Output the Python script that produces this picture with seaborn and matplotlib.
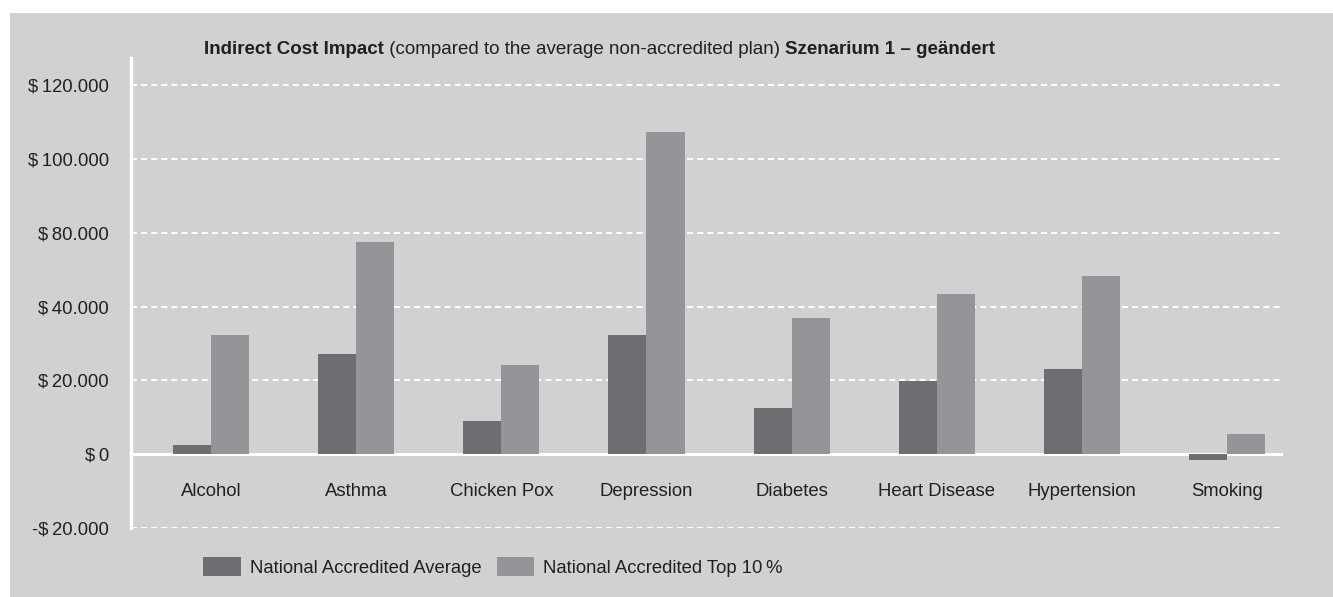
import matplotlib
matplotlib.use("Agg")
import matplotlib.pyplot as plt
import matplotlib.transforms as mtrans
import seaborn as sns
import pandas as pd
from matplotlib.patches import Rectangle
from matplotlib.ticker import FixedLocator

categories = ["Alcohol", "Asthma", "Chicken Pox", "Depression", "Diabetes",
              "Heart Disease", "Hypertension", "Smoking"]
series_names = ["National Accredited Average", "National Accredited Top 10\u2009%"]
national_avg = [2600, 27200, 9100, 32400, 12600, 19900, 23200, -1500]
national_top10 = [32400, 57600, 24300, 87400, 37000, 43500, 48400, 5600]
ytick_values = [-20000, 0, 20000, 40000, 60000, 80000, 100000]
ytick_labels = ["-$\u200920.000", "$\u20090", "$\u200920.000", "$\u200940.000",
                "$\u200980.000", "$\u2009100.000", "$\u2009120.000"]
title_parts = [("Indirect Cost Impact", "bold"),
               (" (compared to the average non-accredited plan) ", "normal"),
               ("Szenarium 1 \u2013 geändert", "bold")]

BG = "#d0d1d3"
DARK = "#6d6e72"
LIGHT = "#949599"
TXT = "#231f20"
FS = 13.3

sns.set_style("white")
plt.rcParams["font.family"] = ["Liberation Sans", "DejaVu Sans"]

df = pd.DataFrame({
    "category": categories * 2,
    "series": [series_names[0]] * len(categories) + [series_names[1]] * len(categories),
    "value": national_avg + national_top10,
})

fig = plt.figure(figsize=(13.33, 5.97), dpi=100, facecolor="white")
fig.patches.append(Rectangle((10 / 1333, 0), 1, (597 - 13) / 597, transform=fig.transFigure,
                             facecolor=BG, edgecolor="none", zorder=-10))
ax = fig.add_axes([131 / 1333, 1 - 528 / 597, (1283 - 131) / 1333, (528 - 58) / 597])
ax.set_facecolor(BG)

sns.barplot(data=df, x="category", y="value", hue="series", order=categories,
            hue_order=series_names, palette=[DARK, LIGHT], width=0.524,
            saturation=1, ax=ax, zorder=3, linewidth=0, legend=True)

ax.set_xlim(-0.552, 7.386)
ax.set_ylim(-20000, 107450)
ax.yaxis.set_major_locator(FixedLocator(ytick_values))
ax.set_yticklabels(ytick_labels)
ax.yaxis.grid(True, color="white", linestyle=(0, (3.1, 2.1)), linewidth=1.4, zorder=0)
ax.set_axisbelow(True)
ax.axhline(0, color="white", linewidth=2.2, zorder=1)
for s in ["top", "right", "bottom"]:
    ax.spines[s].set_visible(False)
ax.spines["left"].set_color("white")
ax.spines["left"].set_linewidth(2.5)
ax.tick_params(axis="both", length=0, labelsize=FS, colors=TXT)
ax.tick_params(axis="y", pad=15.8)
ax.set_xlabel("")
ax.set_ylabel("")
ax.set_xticks(range(len(categories)))
ax.set_xticklabels([])
cat_tr = mtrans.blended_transform_factory(ax.transData, fig.transFigure)
for i, c in enumerate(categories):
    ax.text(i, 1 - 496 / 597, c, ha="center", va="baseline", fontsize=FS, color=TXT,
            transform=cat_tr)

handles, labels = ax.get_legend_handles_labels()
ax.get_legend().remove()
fig.legend(handles, labels, loc="center left", bbox_to_anchor=(203 / 1333, 1 - 567 / 597),
           ncol=2, frameon=False, fontsize=FS, handlelength=2.05, handleheight=1.24,
           handletextpad=0.49, columnspacing=0.81, labelcolor=TXT, borderaxespad=0,
           borderpad=0)

fig.canvas.draw()
renderer = fig.canvas.get_renderer()
x = 204
for txt, w in title_parts:
    t = fig.text(x / 1333, 1 - 54 / 597, txt, fontsize=13.5, fontweight=w, color=TXT,
                 ha="left", va="baseline")
    bb = t.get_window_extent(renderer=renderer)
    x = bb.x1

fig.savefig("out.png", dpi=100, facecolor="white")
